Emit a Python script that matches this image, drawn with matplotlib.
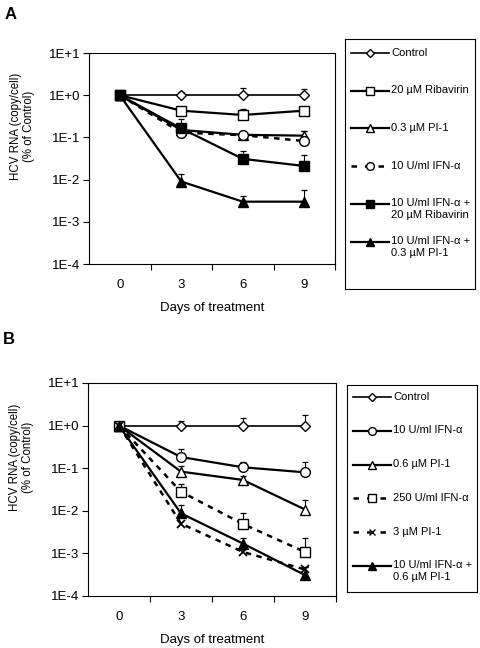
import numpy as np
import matplotlib
matplotlib.use("Agg")
import matplotlib.pyplot as plt

plt.rcParams["font.family"] = ["Liberation Sans", "DejaVu Sans"]

days = [0, 3, 6, 9]
day_labels = ["0", "3", "6", "9"]
ytick_vals = [1e1, 1e0, 1e-1, 1e-2, 1e-3, 1e-4]
ytick_labels = ["1E+1", "1E+0", "1E-1", "1E-2", "1E-3", "1E-4"]

# ---- panel A ----
a_labels = ["Control", "20 \u00b5M Ribavirin", "0.3 \u00b5M PI-1",
            "10 U/ml IFN-\u03b1", "10 U/ml IFN-\u03b1 +\n20 \u00b5M Ribavirin",
            "10 U/ml IFN-\u03b1 +\n0.3 \u00b5M PI-1"]
a_control = [1.0, 1.0, 1.0, 1.0]
a_control_top = [1.0, 1.2, 1.52, 1.39]
a_ribavirin = [1.0, 0.43, 0.34, 0.43]
a_ribavirin_top = [1.0, 0.45, 0.46, 0.53]
a_pi1 = [1.0, 0.15, 0.115, 0.11]
a_pi1_top = [1.0, 0.16, 0.14, 0.14]
a_ifn = [1.0, 0.13, 0.113, 0.082]
a_ifn_top = [1.0, 0.14, 0.144, 0.139]
a_ifn_rib = [1.0, 0.163, 0.031, 0.021]
a_ifn_rib_top = [1.0, 0.27, 0.048, 0.038]
a_ifn_pi = [1.0, 0.009, 0.003, 0.003]
a_ifn_pi_top = [1.0, 0.0134, 0.0041, 0.0057]

# ---- panel B ----
b_labels = ["Control", "10 U/ml IFN-\u03b1", "0.6 \u00b5M PI-1",
            "250 U/ml IFN-\u03b1", "3 \u00b5M PI-1",
            "10 U/ml IFN-\u03b1 +\n0.6 \u00b5M PI-1"]
b_control = [1.0, 1.0, 1.0, 1.0]
b_control_top = [1.0, 1.29, 1.49, 1.78]
b_ifn = [1.0, 0.183, 0.105, 0.080]
b_ifn_top = [1.0, 0.28, 0.137, 0.142]
b_pi1 = [1.0, 0.083, 0.053, 0.0107]
b_pi1_top = [1.0, 0.112, 0.067, 0.0178]
b_ifn250 = [1.0, 0.028, 0.0049, 0.00108]
b_ifn250_top = [1.0, 0.042, 0.0087, 0.0023]
b_pi3 = [1.0, 0.0050, 0.00108, 0.00042]
b_pi3_top = [1.0, 0.0050, 0.00108, 0.00048]
b_ifn_pi = [1.0, 0.0087, 0.0017, 0.00031]
b_ifn_pi_top = [1.0, 0.014, 0.0023, 0.00048]

W, H = 480, 648

# style per series: marker, size, facecolor, dashed, linewidth
a_styles = [("D", 5, "white", False, 1.2),
            ("s", 7, "white", False, 1.6),
            ("^", 6.5, "white", False, 1.6),
            ("o", 7, "white", True, 1.8),
            ("s", 7, "black", False, 1.6),
            ("^", 6.5, "black", False, 1.6)]
b_styles = [("D", 5, "white", False, 1.2),
            ("o", 7, "white", False, 1.6),
            ("^", 6.5, "white", False, 1.6),
            ("s", 7.5, "white", True, 1.8),
            ("x", 6, "black", True, 1.8),
            ("^", 6.5, "black", False, 1.6)]


def px_axes(fig, left, top, right, bottom):
    return fig.add_axes([left / W, 1 - bottom / H, (right - left) / W, (bottom - top) / H])


def draw_panel(ax, series, tops, styles):
    # error bars (upper only) first, then lines/markers on top
    for vals, top in zip(series, tops):
        for x, v, t in zip(days, vals, top):
            if t > v * 1.02:
                ax.plot([x, x], [v, t], color="black", lw=0.8, zorder=2)
                ax.plot([x], [t], marker="_", ms=5, mew=0.9, color="black", zorder=2)
    for i, (vals, st) in enumerate(zip(series, styles)):
        mk, ms, fc, dashed, lw = st
        ls = (0, (2.2, 2.2)) if dashed else "-"
        ax.plot(days, vals, color="black", lw=lw, linestyle=ls, zorder=3 + i * 0.1)
        ax.plot(days, vals, linestyle="none", marker=mk, ms=ms, mfc=fc, mec="black",
                mew=1.0 if mk != "x" else 1.3, zorder=4 + i * 0.1)
    ax.set_yscale("log")
    ax.set_ylim(1e-4, 1e1)
    ax.set_xlim(-1.5, 10.5)
    ax.set_yticks(ytick_vals)
    ax.set_yticklabels(ytick_labels)
    ax.yaxis.set_minor_locator(matplotlib.ticker.NullLocator())
    ax.set_xticks(days)
    ax.set_xticklabels(day_labels)
    ax.set_xticks([1.5, 4.5, 7.5, 10.5], minor=True)
    ax.tick_params(axis="x", which="major", length=0, pad=11, labelsize=9.5)
    ax.tick_params(axis="x", which="minor", length=4, width=0.8, direction="out")
    ax.tick_params(axis="y", length=4, width=0.8, pad=2, labelsize=9.5)
    for sp in ax.spines.values():
        sp.set_linewidth(0.8)
    ax.set_xlabel("Days of treatment", fontsize=9.5, labelpad=8)
    ax.set_ylabel("HCV RNA (copy/cell)\n(% of Control)", fontsize=8.3, linespacing=1.15)
    ax.yaxis.set_label_coords(-0.218, 0.65)


def draw_legend(fig, left, top, right, bottom, labels, styles, y0, step):
    lax = px_axes(fig, left, top, right, bottom)
    lax.set_xlim(0, right - left)
    lax.set_ylim(bottom - top, 0)
    lax.set_xticks([])
    lax.set_yticks([])
    for sp in lax.spines.values():
        sp.set_linewidth(0.8)
    for i, (lab, st) in enumerate(zip(labels, styles)):
        mk, ms, fc, dashed, lw = st
        y = y0 + i * step
        ls = (0, (2.2, 3.2)) if dashed else "-"
        lax.plot([6, 44], [y, y], color="black", lw=lw, linestyle=ls)
        lax.plot([25], [y], marker=mk, ms=ms * 0.8, mfc=fc, mec="black",
                 mew=1.0, linestyle="none")
        lax.text(46, y - 5.5, lab, fontsize=8, va="top", ha="left", linespacing=1.25)


fig = plt.figure(figsize=(W / 100, H / 100), dpi=100)

axA = px_axes(fig, 89, 53, 335, 264)
draw_panel(axA,
           [a_control, a_ribavirin, a_pi1, a_ifn, a_ifn_rib, a_ifn_pi],
           [a_control_top, a_ribavirin_top, a_pi1_top, a_ifn_top, a_ifn_rib_top, a_ifn_pi_top],
           a_styles)
draw_legend(fig, 345, 39, 475, 289, a_labels, a_styles, 14, 37.7)

axB = px_axes(fig, 88, 383, 336, 596)
draw_panel(axB,
           [b_control, b_ifn, b_pi1, b_ifn250, b_pi3, b_ifn_pi],
           [b_control_top, b_ifn_top, b_pi1_top, b_ifn250_top, b_pi3_top, b_ifn_pi_top],
           b_styles)
draw_legend(fig, 347, 385, 477, 592, b_labels, b_styles, 12, 33.8)

fig.text(5 / W, 1 - 7 / H, "A", fontsize=12, fontweight="bold", va="top", ha="left")
fig.text(3 / W, 1 - 332 / H, "B", fontsize=12, fontweight="bold", va="top", ha="left")

fig.savefig("out.png", dpi=100)
